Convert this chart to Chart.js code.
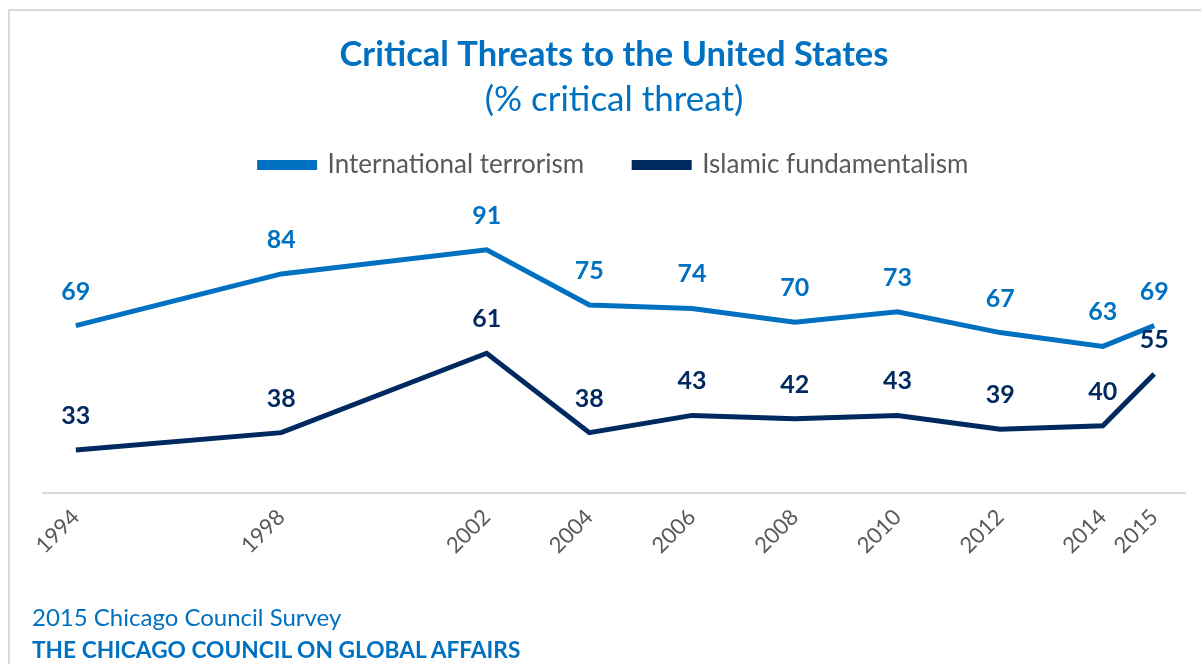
<!DOCTYPE html>
<html>
<head>
<meta charset="utf-8">
<script src="https://cdn.jsdelivr.net/npm/chart.js@4"></script>
<style>
  body { margin: 0; background: #fff; font-family: Lato, sans-serif; }
  #wrap { position: relative; width: 1201px; height: 664px; overflow: hidden; }
  #frame { position: absolute; left: 8px; top: 9px; right: -10px; bottom: -10px; border-left: 2px solid #d9d9d9; border-top: 2px solid #d9d9d9; }
  #chart { position: absolute; left: 0; top: 0; }
  .note { position: absolute; left: 32px; color: #0070C0; white-space: nowrap; }
</style>
</head>
<body>
<div id="wrap">
  <div id="frame"></div>
  <canvas id="chart" width="1201" height="664"></canvas>
  <div class="note" style="top: 602px; font-size: 24px;">2015 Chicago Council Survey</div>
  <div class="note" style="top: 636px; font-size: 22.7px; font-weight: bold;">THE CHICAGO COUNCIL ON GLOBAL AFFAIRS</div>
</div>
<script>
// years of the survey
let years = [1994, 1998, 2002, 2004, 2006, 2008, 2010, 2012, 2014, 2015];
let terrorism = [69, 84, 91, 75, 74, 70, 73, 67, 63, 69];
let islamic = [33, 38, 61, 38, 43, 42, 43, 39, 40, 55];

let blue = '#0070C0';
let navy = '#00295F';
let gray = '#595959';

let toPoints = function (values) {
    let pts = [];
    for (let i = 0; i < years.length; i++) {
        pts.push({x: years[i], y: values[i]});
    }
    return pts;
}

// labels above each point, same colour as the line
let valueLabels = {
    id: 'valueLabels',
    afterDatasetsDraw(chart) {
        let ctx = chart.ctx;
        ctx.save();
        ctx.font = 'bold 25px Lato';
        ctx.textAlign = 'center';
        ctx.textBaseline = 'middle';
        chart.data.datasets.forEach((ds, di) => {
            let meta = chart.getDatasetMeta(di);
            meta.data.forEach((pt, i) => {
                ctx.fillStyle = ds.borderColor;
                ctx.fillText(ds.data[i].y, pt.x, pt.y - 34);
            });
        });
        ctx.restore();
    }
}

const ctx = document.getElementById('chart');

new Chart(ctx, {
    type: 'line',
    data: {
        datasets: [
            {
                label: 'International terrorism',
                data: toPoints(terrorism),
                borderColor: blue,
                backgroundColor: blue,
                borderWidth: 5,
                pointRadius: 0,
                tension: 0,
                fill: false
            },
            {
                label: 'Islamic fundamentalism',
                data: toPoints(islamic),
                borderColor: navy,
                backgroundColor: navy,
                borderWidth: 5,
                pointRadius: 0,
                tension: 0,
                fill: false
            }
        ]
    },
    options: {
        responsive: false,
        animation: false,
        layout: { padding: { left: 43, right: 16, bottom: 102.2 } },
        plugins: {
            title: {
                display: true,
                text: 'Critical Threats to the United States',
                color: blue,
                font: { family: 'Lato', size: 34.5, weight: 'bold' },
                padding: { top: 34, bottom: 3.6 }
            },
            subtitle: {
                display: true,
                text: '(% critical threat)',
                color: blue,
                font: { family: 'Lato', size: 35 },
                padding: { top: 0, bottom: -19 }
            },
            legend: {
                labels: {
                    color: gray,
                    font: { family: 'Lato', size: 26 },
                    boxWidth: 55,
                    boxHeight: 5,
                    padding: 50
                }
            },
            tooltip: { enabled: false }
        },
        scales: {
            x: {
                type: 'linear',
                min: 1993.36,
                max: 2015.6,
                afterBuildTicks: (axis) => {
                    axis.ticks = years.map(v => ({value: v}));
                },
                grid: { display: false },
                border: { color: '#d9d9d9', width: 2 },
                ticks: {
                    color: gray,
                    font: { family: 'Lato', size: 22 },
                    maxRotation: 45,
                    minRotation: 45,
                    autoSkip: false,
                    callback: (v) => String(v)
                }
            },
            y: {
                display: false,
                min: 20.5,
                max: 108.9
            }
        }
    },
    plugins: [valueLabels]
});
</script>
</body>
</html>
